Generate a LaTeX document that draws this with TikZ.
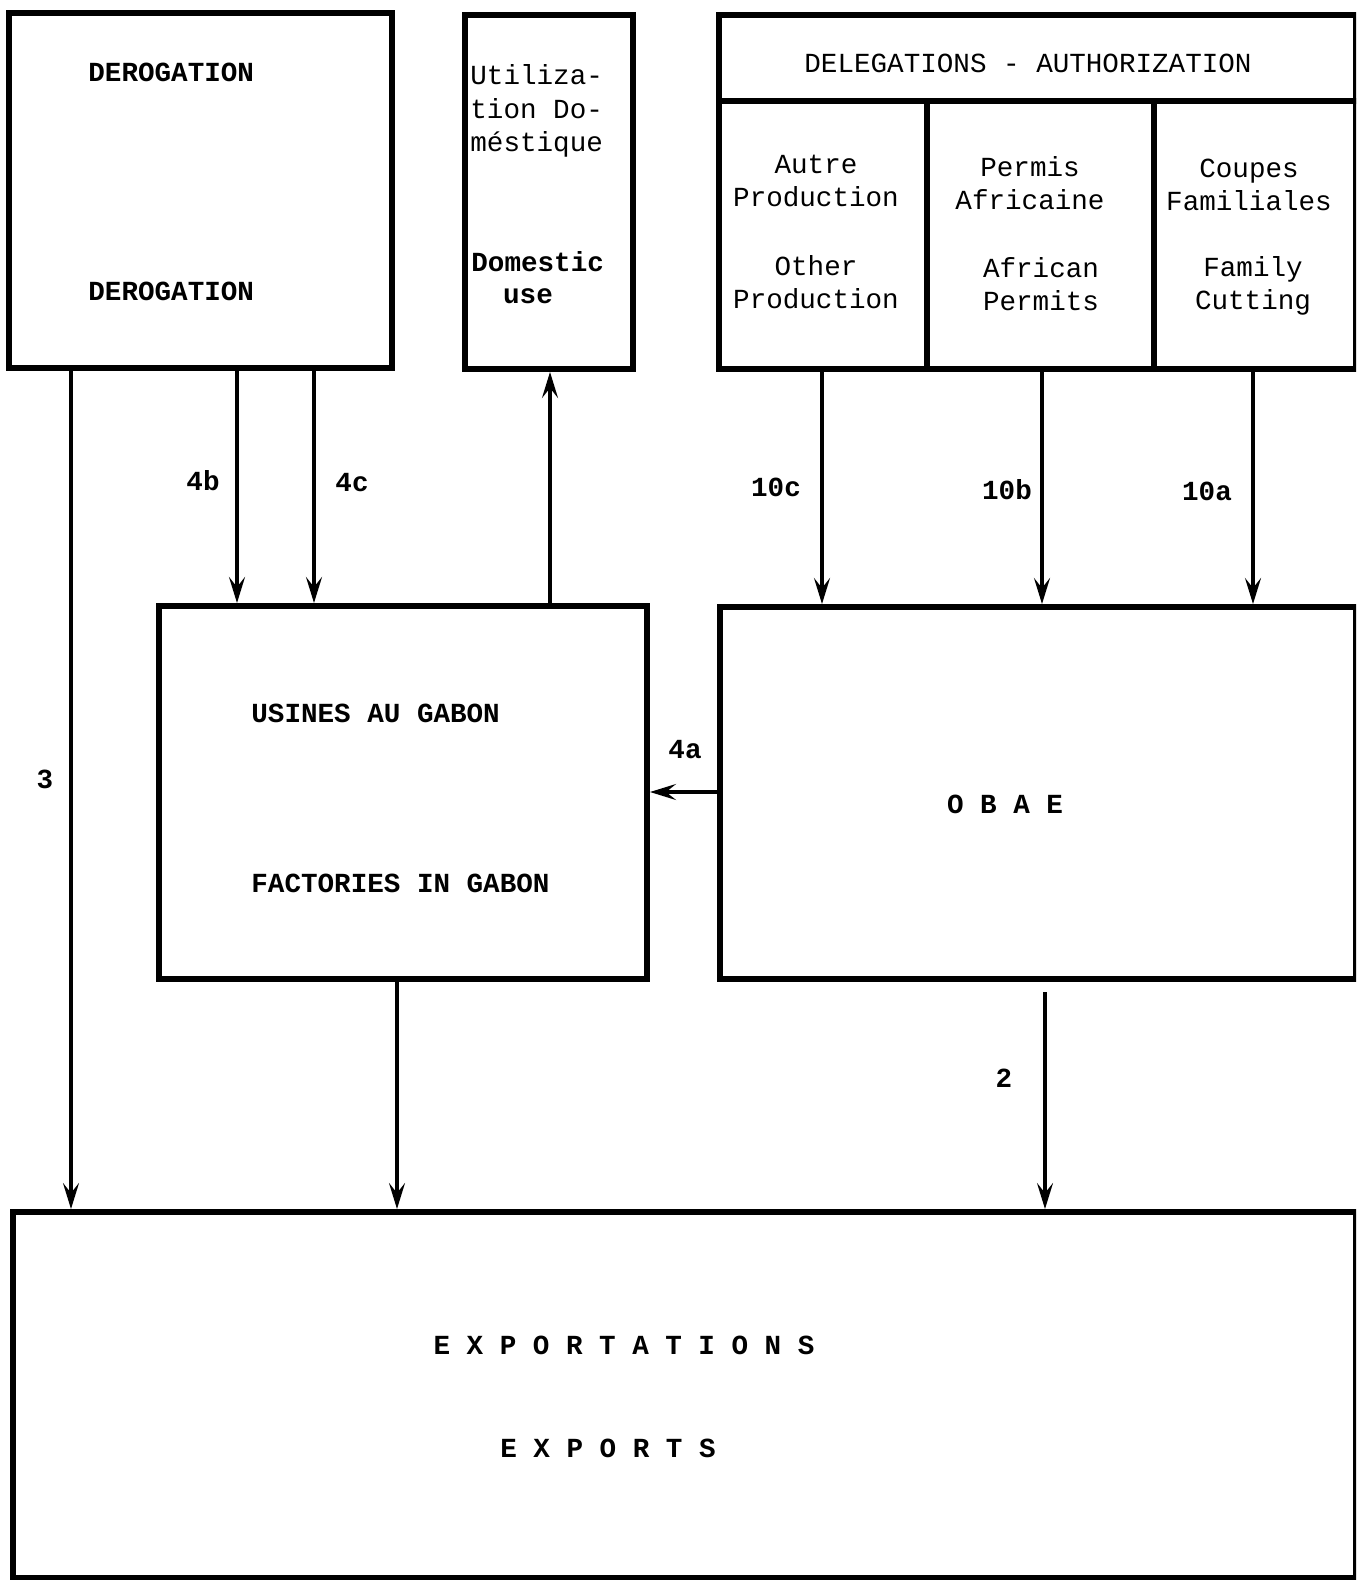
\documentclass[tikz,border=0pt]{standalone}
\usepackage{fontspec}
\usetikzlibrary{arrows.meta}
\newfontfamily\tw{Liberation Mono}
\begin{document}
\begin{tikzpicture}[x=0.5pt,y=-0.5pt,
  box/.style={draw,line width=3pt,rectangle,inner sep=0pt},
  arr/.style={line width=1.6pt,-{Stealth[length=13pt,width=8pt,inset=5pt]}},
  txt/.style={font=\tw\fontsize{13.8}{16.8}\selectfont,inner sep=0pt},
  btxt/.style={font=\tw\bfseries\fontsize{13.8}{16.8}\selectfont,inner sep=0pt},
  lbl/.style={font=\tw\bfseries\fontsize{13.8}{16.8}\selectfont,inner sep=0pt}]
\useasboundingbox (0,0) rectangle (1356,1580);
\begin{scope}
\clip (0,0) rectangle (1356,1580);
% boxes
\node[box,minimum width=191.5pt,minimum height=177.5pt] (derog) at (200.5,190.5) {};
\node[box,minimum width=84pt,minimum height=177pt] (dom) at (549,192) {};
\node[box,minimum width=318.5pt,minimum height=43pt] (hdr) at (1037.5,58) {};
\node[box,minimum width=104pt,minimum height=134pt] (c1) at (823,235) {};
\node[box,minimum width=113.5pt,minimum height=134pt] (c2) at (1040.5,235) {};
\node[box,minimum width=101pt,minimum height=134pt] (c3) at (1255,235) {};
\node[box,minimum width=244pt,minimum height=186.5pt] (fac) at (403,792.5) {};
\node[box,minimum width=318pt,minimum height=186pt] (obae) at (1038,793) {};
\node[box,minimum width=671.5pt,minimum height=183pt] (exp) at (684.5,1395) {};
\end{scope}
% texts
\node[btxt,anchor=west] (t1) at (88,72) {DEROGATION};
\node[btxt,anchor=west] (t2) at (88,291) {DEROGATION};
\node[txt,align=left,anchor=west] (t3) at (470,111) {Utiliza-\\tion Do-\\méstique};
\node[btxt,anchor=west] (t4) at (471,262) {Domestic};
\node[btxt] (t4b) at (528,296) {use};
\node[txt] (t5) at (1028,63) {DELEGATIONS - AUTHORIZATION};
\node[txt,align=center] (t6) at (816,181) {Autre\\Production};
\node[txt,align=center] (t7) at (816,282) {Other\\Production};
\node[txt,align=center] (t8) at (1030,183) {Permis\\Africaine};
\node[txt,align=center] (t9) at (1041,284) {African\\Permits};
\node[txt,align=center] (t10) at (1249,185) {Coupes\\Familiales};
\node[txt,align=center] (t11) at (1253,286) {Family\\Cutting};
\node[btxt,anchor=west] (t12) at (251,713) {USINES AU GABON};
\node[btxt,anchor=west] (t13) at (251,883) {FACTORIES IN GABON};
\node[btxt] (t14) at (1005,804) {O B A E};
\node[btxt] (t15) at (624,1345) {E X P O R T A T I O N S};
\node[btxt] (t16) at (608,1448) {E X P O R T S};
% arrow x positions
\coordinate (x3) at (71,0);
\coordinate (x4b) at (237,0);
\coordinate (x4c) at (314,0);
\coordinate (xd) at (550,0);
\coordinate (x10c) at (822,0);
\coordinate (x10b) at (1042,0);
\coordinate (x10a) at (1253,0);
\coordinate (xf) at (397,0);
\coordinate (x2) at (1045,0);
\coordinate (y4a) at (0,792);
% arrows
\draw[arr] (derog.south -| x3) -- (exp.north -| x3);
\draw[arr] (derog.south -| x4b) -- (fac.north -| x4b);
\draw[arr] (derog.south -| x4c) -- (fac.north -| x4c);
\draw[arr] (fac.north -| xd) -- (dom.south -| xd);
\draw[arr] (c1.south -| x10c) -- (obae.north -| x10c);
\draw[arr] (c2.south -| x10b) -- (obae.north -| x10b);
\draw[arr] (c3.south -| x10a) -- (obae.north -| x10a);
\draw[arr] (obae.west |- y4a) -- (fac.east |- y4a);
\draw[arr] (fac.south -| xf) -- (exp.north -| xf);
\draw[arr] ([yshift=-5pt]obae.south -| x2) -- (exp.north -| x2);
% labels
\node[lbl] (l3) at (45,779) {3};
\node[lbl] (l4b) at (203,481) {4b};
\node[lbl] (l4c) at (352,483) {4c};
\node[lbl] (l10c) at (776,487) {10c};
\node[lbl] (l10b) at (1007,490) {10b};
\node[lbl] (l10a) at (1207,491) {10a};
\node[lbl] (l4a) at (685,750) {4a};
\node[lbl] (l2) at (1004,1078) {2};
\end{tikzpicture}
\end{document}
